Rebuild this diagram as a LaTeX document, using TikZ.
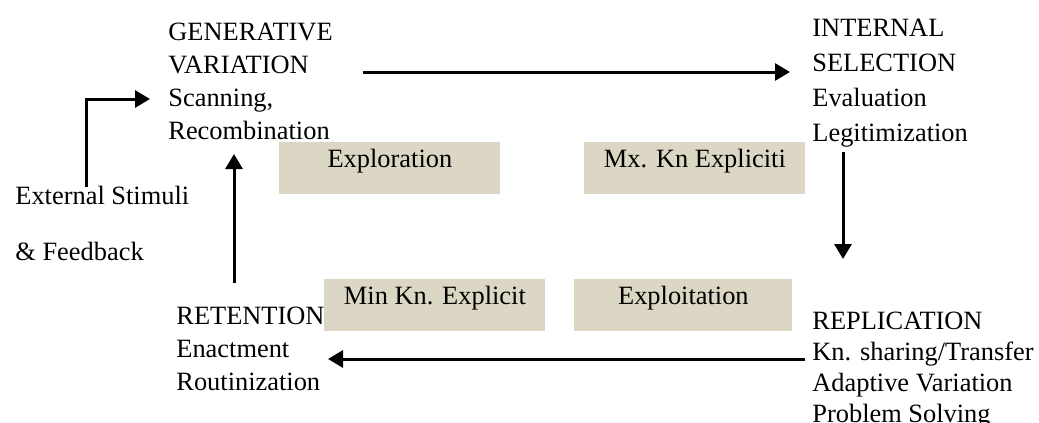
\documentclass[tikz,border=0pt]{standalone}
\usepackage{fontspec}
\setmainfont{Liberation Serif}
\usetikzlibrary{arrows.meta}
\definecolor{boxfill}{RGB}{220,215,196}
\begin{document}
\begin{tikzpicture}[x=0.5pt,y=-0.5pt,
  lbl/.style={inner sep=0pt,anchor=north west,align=left,text=black},
  phase/.style={fill=boxfill,draw=none,minimum width=110.5pt,minimum height=26pt,
    inner sep=0pt,anchor=north west,text height=12.5pt,text depth=13.5pt},
  flow/.style={line width=1.5pt,-{Triangle[length=7.5pt,width=8.5pt]}}]
\useasboundingbox (0,0) rectangle (1039,423);
\fontsize{13.2}{16.5}\selectfont

% the four stage descriptions
\node[lbl,font=\fontsize{13.2}{16.5}\selectfont] (gen) at (168,23)
  {GENERATIVE\\VARIATION\\Scanning,\\Recombination};
\node[lbl,font=\fontsize{13.2}{17.5}\selectfont] (sel) at (812,19)
  {INTERNAL\\SELECTION\\Evaluation\\Legitimization};
\node[lbl,font=\fontsize{13.2}{15.5}\selectfont] (rep) at (812,312)
  {REPLICATION\\Kn. sharing/Transfer\\Adaptive Variation\\Problem Solving};
\node[lbl,font=\fontsize{13.2}{16.5}\selectfont] (ret) at (176,307)
  {RETENTION\\Enactment\\Routinization};

% external input
\node[lbl] (ext) at (15,186) {External Stimuli};
\node[lbl] (feed) at (15,242) {\& Feedback};

% shaded knowledge boxes
\node[phase] (expl) at (279,142) {Exploration};
\node[phase] (mx) at (584,142) {Mx. Kn Expliciti};
\node[phase] (mn) at (324,279) {Min Kn. Explicit};
\node[phase,minimum width=109pt] (expt) at (574,279) {Exploitation};

% cycle connectors
\coordinate (a1s) at (363,72);
\coordinate (a1e) at (790,72);
\draw[flow] (a1s) -- (a1e);
\coordinate (a2s) at (843,152);
\coordinate (a2e) at (843,259);
\draw[flow] (a2s) -- (a2e);
\coordinate (a3s) at (805,359);
\coordinate (a3e) at (328,359);
\draw[flow] (a3s) -- (a3e);
\coordinate (a4s) at (234,283);
\coordinate (a4e) at (234,154);
\draw[flow] (a4s) -- (a4e);
\coordinate (a5s) at (86,187);
\coordinate (a5e) at (150,99);
\draw[flow] (a5s) |- (a5e);
\end{tikzpicture}
\end{document}
